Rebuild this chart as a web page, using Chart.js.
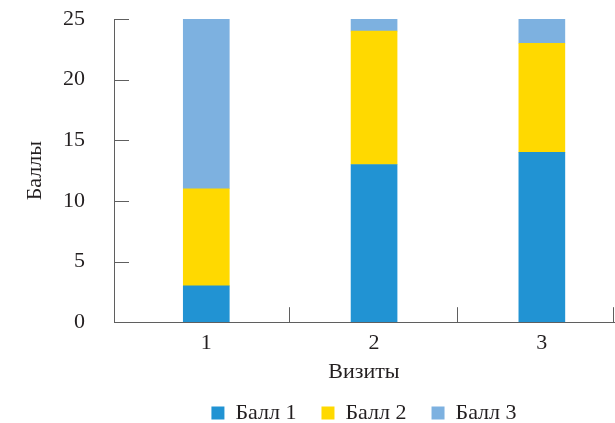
<!DOCTYPE html>
<html>
<head>
<meta charset="utf-8">
<script src="https://cdn.jsdelivr.net/npm/chart.js@4/dist/chart.umd.min.js"></script>
<style>
  html, body { margin: 0; padding: 0; background: #ffffff; }
  #wrap { width: 615px; height: 423px; }
</style>
</head>
<body>
<div id="wrap"><canvas id="c" width="615" height="423"></canvas></div>
<script>
// Visit numbers and the three score components per visit
const visits = [1, 2, 3];
const score1 = [3, 13, 14];
const score2 = [8, 11, 9];
const score3 = [14, 1, 2];
const seriesNames = ['Балл 1', 'Балл 2', 'Балл 3'];
const yTicks = [0, 5, 10, 15, 20, 25];
const colors = ['#2193d3', '#ffd900', '#7db1e0'];

const FONT = "'Liberation Serif', 'DejaVu Serif', serif";
const FS = 22;
const TEXT = '#231f20';
const AXIS = '#5f5f5f';

const toPoints = arr => arr.map((v, i) => ({ x: visits[i], y: v }));

// Short inward tick marks on both axes
const inwardTicks = {
  id: 'inwardTicks',
  afterDatasetsDraw(chart) {
    const { ctx, scales: { x, y } } = chart;
    ctx.save();
    ctx.strokeStyle = AXIS;
    ctx.lineWidth = 1;
    ctx.beginPath();
    yTicks.forEach(v => {
      const py = Math.round(y.getPixelForValue(v)) + 0.5;
      ctx.moveTo(x.left, py);
      ctx.lineTo(x.left + 15, py);
    });
    // separators between visit groups plus the right end
    [visits[0] + 0.5, visits[1] + 0.5, x.max].forEach(v => {
      const px = Math.round(x.getPixelForValue(v)) - 0.5;
      ctx.moveTo(px, y.bottom);
      ctx.lineTo(px, y.bottom - 15);
    });
    ctx.stroke();
    ctx.restore();
  }
};

new Chart(document.getElementById('c'), {
  type: 'bar',
  data: {
    datasets: [
      { label: seriesNames[0], data: toPoints(score1), backgroundColor: colors[0] },
      { label: seriesNames[1], data: toPoints(score2), backgroundColor: colors[1] },
      { label: seriesNames[2], data: toPoints(score3), backgroundColor: colors[2] }
    ]
  },
  options: {
    responsive: false,
    animation: false,
    devicePixelRatio: 1,
    barThickness: 46,
    layout: { padding: { left: 22, right: 1, top: 19, bottom: -11 } },
    font: { family: FONT, size: FS },
    color: TEXT,
    plugins: {
      legend: {
        position: 'bottom',
        fullSize: false,
        labels: {
          font: { family: FONT, size: FS },
          color: TEXT,
          boxWidth: 13,
          boxHeight: 13,
          padding: 25
        }
      },
      tooltip: { enabled: false }
    },
    scales: {
      x: {
        type: 'linear',
        stacked: true,
        offset: false,
        min: 0.45,
        max: 3.43,
        afterBuildTicks: s => { s.ticks = visits.map(v => ({ value: v })); },
        ticks: {
          font: { family: FONT, size: FS },
          color: TEXT,
          padding: 8,
          maxRotation: 0
        },
        grid: { display: false, drawTicks: false },
        border: { display: true, color: AXIS, width: 1 },
        title: {
          display: true,
          text: 'Визиты',
          font: { family: FONT, size: FS },
          color: TEXT,
          padding: { top: -6, bottom: -8 }
        }
      },
      y: {
        stacked: true,
        min: 0,
        max: 25,
        afterBuildTicks: s => { s.ticks = yTicks.map(v => ({ value: v })); },
        afterFit: s => { s.width = 92; },
        ticks: {
          font: { family: FONT, size: FS },
          color: TEXT,
          padding: 0
        },
        grid: {
          display: true,
          drawOnChartArea: false,
          drawTicks: true,
          tickLength: 29,
          tickColor: 'rgba(0,0,0,0)'
        },
        border: { display: true, color: AXIS, width: 1 },
        title: {
          display: true,
          text: 'Баллы',
          font: { family: FONT, size: FS },
          color: TEXT,
          padding: { top: 0, bottom: 18 }
        }
      }
    }
  },
  plugins: [inwardTicks]
});
</script>
</body>
</html>
